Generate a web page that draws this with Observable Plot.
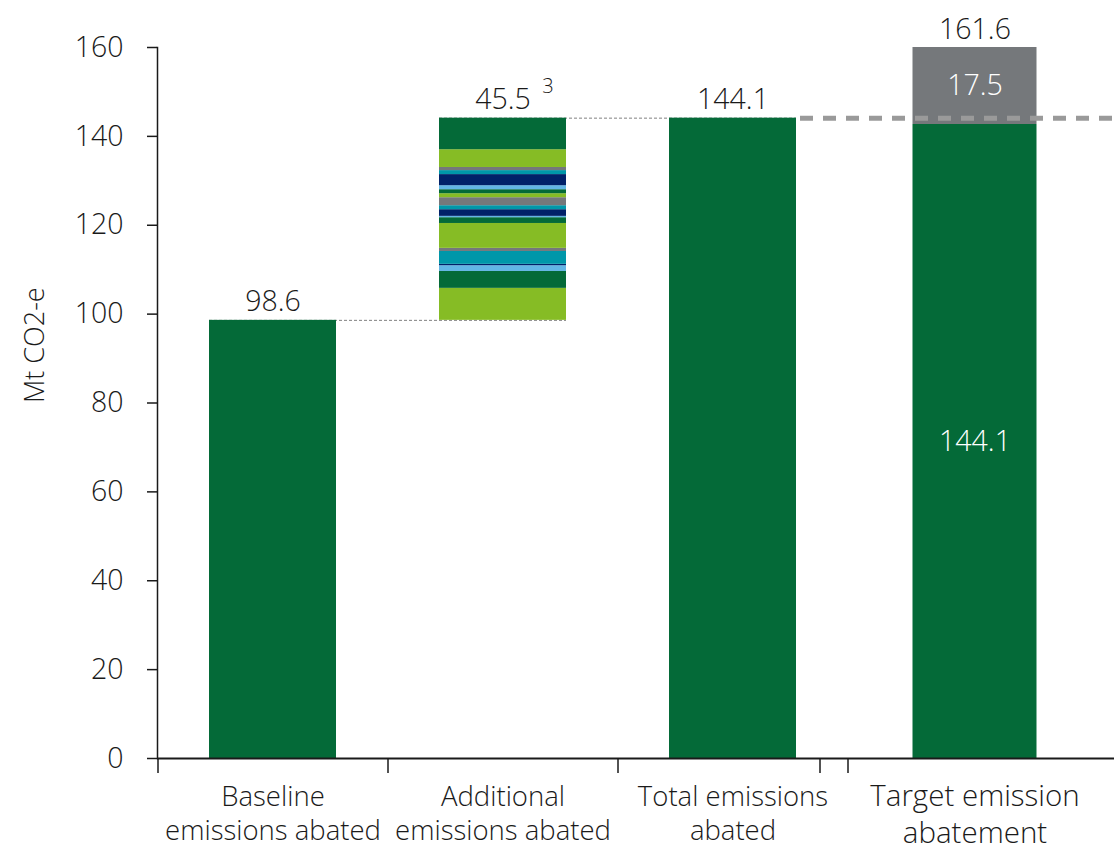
<!DOCTYPE html>
<html>
<head>
<meta charset="utf-8">
<script src="https://cdn.jsdelivr.net/npm/d3@7"></script>
<script src="https://cdn.jsdelivr.net/npm/@observablehq/plot@0.6"></script>
<style>
  html, body { margin: 0; padding: 0; background: #fff; }
  #chart { width: 1114px; height: 850px; }
  #chart svg text { font-weight: 300; }
</style>
</head>
<body>
<div id="chart"></div>
<script>
// ---- data ----
const categories = ["Baseline\nemissions abated", "Additional\nemissions abated", "Total emissions\nabated", "Target emission\nabatement"];
const baselineAbated = 98.6;
const additionalAbated = 45.5;
const totalAbated = 144.1;
const targetGap = 17.5;
const targetTotal = 161.6;
// individual measures making up the additional abatement (bottom to top)
const additionalSegments = [7.2, 3.8, 1.3, 0.3, 2.9, 0.7, 5.6, 1.3, 0.3, 1.5, 0.9, 1.8, 0.9, 0.9, 0.9, 2.5, 0.9, 0.7, 4.0, 7.1];
const yTicks = [0, 20, 40, 60, 80, 100, 120, 140, 160];
const footnoteMark = "3";

// ---- styling ----
const darkGreen = "#046A38";
const segmentPalette = ["#86BC25", "#046A38", "#62B5E5", "#012169", "#0097A9", "#75787B"];
const gapGray = "#75787B";
const font = "'Open Sans', 'Noto Sans', sans-serif";
const yMax = yTicks[yTicks.length - 1];

// ---- derived tables ----
let acc = baselineAbated;
const segRows = additionalSegments.map((v, i) => {
  const r = {cat: categories[1], y1: acc, y2: acc + v, fill: segmentPalette[i % segmentPalette.length]};
  acc += v;
  return r;
});
const solidRows = [
  {cat: categories[0], y1: 0, y2: baselineAbated},
  {cat: categories[2], y1: 0, y2: totalAbated}
];
// target bar drawn on its own (secondary) scale whose top equals the axis top
const f = yMax / targetTotal;
const targetRows = [
  {cat: categories[3], y1: 0, y2: totalAbated * f, fill: darkGreen, label: totalAbated.toFixed(1)},
  {cat: categories[3], y1: totalAbated * f, y2: targetTotal * f, fill: gapGray, label: targetGap.toFixed(1)}
];
const connectors = [
  {a: categories[0], b: categories[1], v: baselineAbated},
  {a: categories[1], b: categories[2], v: totalAbated}
];
const topLabels = [
  {cat: categories[0], v: baselineAbated, t: baselineAbated.toFixed(1)},
  {cat: categories[1], v: totalAbated, t: additionalAbated.toFixed(1)},
  {cat: categories[2], v: totalAbated, t: totalAbated.toFixed(1)}
];

const chart = Plot.plot({
  width: 1114,
  height: 850,
  marginTop: 47,
  marginBottom: 92,
  marginLeft: 157,
  marginRight: 0,
  style: {fontFamily: font, fontSize: "28px", color: "#1a1a1a", background: "#fff", overflow: "visible"},
  x: {type: "band", domain: categories, range: [157, 1077], paddingInner: 0.448, paddingOuter: 0.224},
  y: {domain: [0, yMax]},
  marks: [
    // thin dashed connectors between bars
    Plot.ruleY(connectors, {x1: "a", x2: "b", y: "v", stroke: "#808080", strokeWidth: 1, strokeDasharray: "3,2"}),
    Plot.barY(solidRows, {x: "cat", y1: "y1", y2: "y2", fill: darkGreen}),
    Plot.barY(segRows, {x: "cat", y1: "y1", y2: "y2", fill: "fill"}),
    Plot.barY(targetRows, {x: "cat", y1: "y1", y2: "y2", fill: "fill", dx: 12, insetLeft: 1.5, insetRight: 1.5}),
    // thick dashed target line
    Plot.ruleY([totalAbated], {stroke: "#9a9a9a", strokeWidth: 5, strokeDasharray: "13,10", insetLeft: 643}),
    // value labels
    Plot.text(topLabels, {x: "cat", y: "v", text: "t", lineAnchor: "bottom", dy: -9, fontSize: 28.5}),
    Plot.text([footnoteMark], {x: () => categories[1], y: () => totalAbated, text: d => d, lineAnchor: "bottom", dx: 45, dy: -25, fontSize: 20}),
    Plot.text(targetRows, {x: "cat", y: d => (d.y1 + d.y2) / 2, text: "label", fill: "#fff", dx: 12, fontSize: 28.5}),
    Plot.text([targetTotal], {x: () => categories[3], y: () => yMax, text: d => d.toFixed(1), lineAnchor: "bottom", dx: 12, dy: -9, fontSize: 28.5}),
    // axes
    Plot.axisY({ticks: yTicks, tickSize: 10, tickPadding: 24, label: null, fontSize: 28.5, strokeWidth: 1.5}),
    Plot.frame({anchor: "left", strokeWidth: 1.5}),
    Plot.ruleY([0], {strokeWidth: 2}),
    Plot.axisX({ticks: categories, tickSize: 15, tickFormat: () => "", label: null, dx: -115, strokeWidth: 1.5}),
    Plot.axisX({ticks: [categories[3]], tickSize: 15, tickFormat: () => "", label: null, dx: -143, strokeWidth: 1.5}),
    Plot.text(categories.slice(0, 3), {x: d => d, text: d => d, frameAnchor: "bottom", lineAnchor: "top", dy: 24, fontSize: 27.5, lineHeight: 1.22}),
    Plot.text(categories.slice(3), {x: d => d, text: d => d, frameAnchor: "bottom", lineAnchor: "top", dy: 21, dx: 12, fontSize: 29.5, lineHeight: 1.25}),
    Plot.text(["Mt CO2-e"], {text: d => d, frameAnchor: "left", rotate: -90, dx: -122, fontSize: 27})
  ]
});
document.getElementById("chart").appendChild(chart);
</script>
</body>
</html>
